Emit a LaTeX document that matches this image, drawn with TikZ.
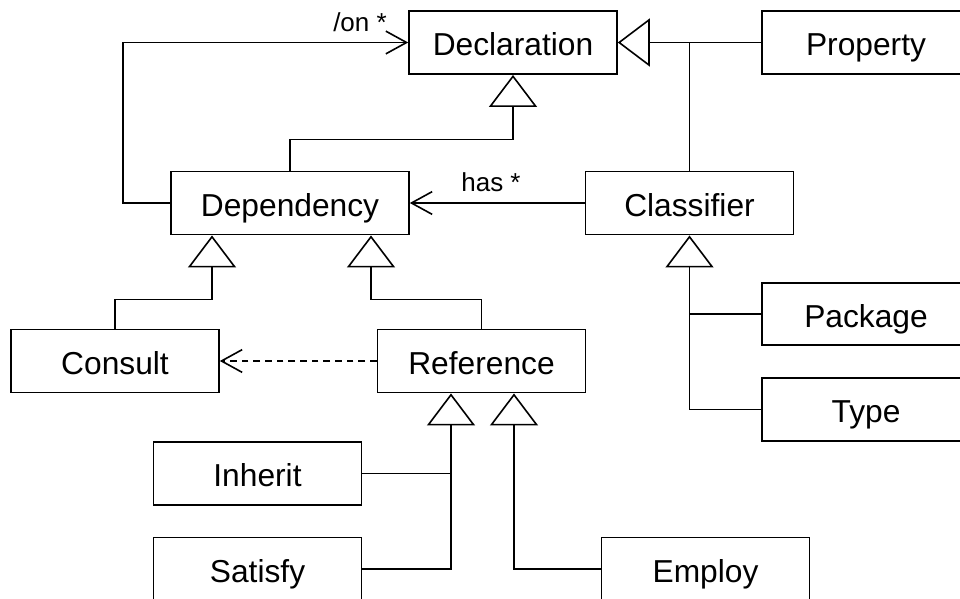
\documentclass[tikz,border=0pt]{standalone}
\usepackage{fontspec}
\setmainfont{Liberation Sans}
\usetikzlibrary{arrows.meta,calc}
\tikzset{every picture/.style={line width=1.2pt}}

\begin{document}
\begin{tikzpicture}[x=0.75pt,y=0.75pt,yscale=-1,xscale=1,
  umlbox/.style={draw, minimum width=156pt, minimum height=47.5pt, inner sep=0pt,
    text height=19.8pt, text depth=0pt, font=\fontsize{23.8}{28}\selectfont},
  genline/.style={-{Triangle[open,length=24pt,width=36pt]}},
  assocline/.style={-{Straight Barb[length=15.5pt,width=17pt]}},
  lbl/.style={inner sep=0.75pt, font=\fontsize{19.5}{23}\selectfont}]
\useasboundingbox (0,0) rectangle (960,599);
\clip (0,0) rectangle (960,599);

% Boxes
\node[umlbox] (decl) at (513,42.5) {Declaration};
\node[umlbox] (prop) at (866,42.5) {Property};
\node[umlbox, minimum width=178.5pt] (dep) at (290,203) {Dependency};
\node[umlbox] (cls) at (689.5,203) {Classifier};
\node[umlbox] (cons) at (115,361) {Consult};
\node[umlbox] (ref) at (481.5,361) {Reference};
\node[umlbox, minimum height=46.5pt] (pkg) at (866,314) {Package};
\node[umlbox] (type) at (866,409.5) {Type};
\node[umlbox] (inh) at (257.5,473.5) {Inherit};
\node[umlbox] (sat) at (257.5,569) {Satisfy};
\node[umlbox] (emp) at (705.5,569) {Employ};

% Attachment points under Dependency and Reference
\coordinate (depL) at ($(dep.south)+(-78,0)$);
\coordinate (depR) at ($(dep.south)+(81,0)$);
\coordinate (refL) at ($(ref.south)+(-30.5,0)$);
\coordinate (refR) at ($(ref.south)+(32.5,0)$);

% Generalizations
\draw[genline] (dep.north) -- ++(0,-31) -| (decl.south);
\draw[genline] (prop.west) -- (decl.east);
\draw (cls.north) -- (cls.north |- decl.east);
\draw[genline] (cons.north) -- ++(0,-29) -| (depL);
\draw[genline] (ref.north) -- ++(0,-29) -| (depR);
\draw[genline] (type.west) -| (cls.south);
\draw (pkg.west) -- (pkg.west -| cls.south);
\draw[genline] (sat.east) -| (refL);
\draw (inh.east) -- (inh.east -| refL);
\draw[genline] (emp.west) -| (refR);

% Associations
\draw[assocline] (dep.west) -- ++(-47,0) |- (decl.west);
\node[lbl] (onlbl) at (360,22) {/on *};
\draw[assocline] (cls.west) -- (dep.east);
\node[lbl] (haslbl) at (491,182) {has *};
\draw[assocline, dash pattern=on 5pt off 3.75pt] (ref.west) -- (cons.east);

\end{tikzpicture}
\end{document}
